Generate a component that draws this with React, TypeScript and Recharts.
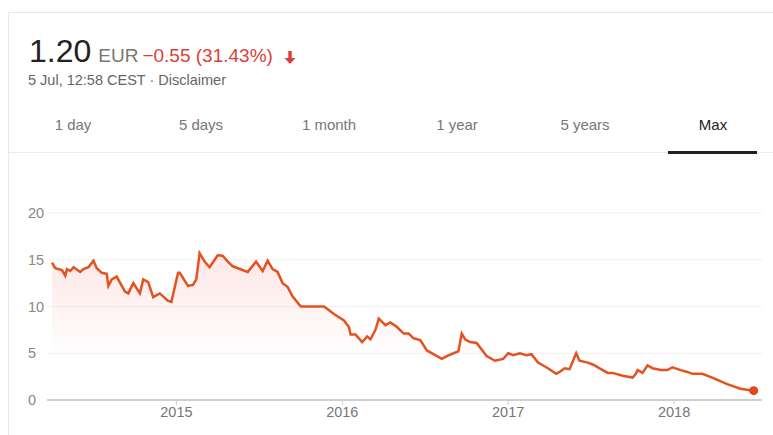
import { ComposedChart, Area, XAxis, YAxis, CartesianGrid } from 'recharts';

// decimal year of each sample
const dates = [
  2014.25, 2014.27, 2014.31, 2014.33, 2014.34, 2014.36, 2014.38, 2014.42, 2014.44, 2014.47,
  2014.5, 2014.52, 2014.55, 2014.58, 2014.59, 2014.61, 2014.64, 2014.69, 2014.71, 2014.74,
  2014.78, 2014.8, 2014.83, 2014.86, 2014.9, 2014.95, 2014.97, 2015.01, 2015.02, 2015.07,
  2015.1, 2015.12, 2015.14, 2015.17, 2015.2, 2015.25, 2015.28, 2015.31, 2015.34, 2015.43,
  2015.48, 2015.52, 2015.55, 2015.58, 2015.61, 2015.64, 2015.67, 2015.7, 2015.75, 2015.89,
  2015.95, 2016.01, 2016.04, 2016.05, 2016.08, 2016.12, 2016.15, 2016.17, 2016.2, 2016.22,
  2016.26, 2016.29, 2016.33, 2016.37, 2016.4, 2016.43, 2016.47, 2016.51, 2016.56, 2016.6,
  2016.63, 2016.67, 2016.7, 2016.72, 2016.74, 2016.77, 2016.81, 2016.87, 2016.92, 2016.97,
  2017.0, 2017.03, 2017.07, 2017.11, 2017.14, 2017.18, 2017.23, 2017.29, 2017.31, 2017.34,
  2017.37, 2017.41, 2017.43, 2017.48, 2017.51, 2017.57, 2017.6, 2017.63, 2017.69, 2017.75,
  2017.77, 2017.78, 2017.81, 2017.84, 2017.87, 2017.92, 2017.96, 2017.99, 2018.04, 2018.08,
  2018.11, 2018.17, 2018.23, 2018.32, 2018.4, 2018.48,
];

// price in EUR
const prices = [
  14.7, 14.1, 13.9, 13.3, 14.0, 13.8, 14.2, 13.7, 14.0, 14.2,
  14.9, 14.1, 13.6, 13.5, 12.2, 12.9, 13.2, 11.6, 11.4, 12.5,
  11.4, 12.9, 12.6, 11.0, 11.4, 10.6, 10.5, 13.6, 13.6, 12.2,
  12.3, 12.9, 15.7, 14.8, 14.2, 15.5, 15.4, 14.8, 14.3, 13.7,
  14.8, 13.8, 14.9, 14.0, 13.7, 12.5, 12.1, 11.1, 10.0, 10.0,
  9.2, 8.5, 7.8, 7.0, 7.0, 6.2, 6.8, 6.5, 7.5, 8.7,
  8.0, 8.3, 7.8, 7.1, 7.1, 6.6, 6.4, 5.3, 4.8, 4.4,
  4.7, 5.0, 5.2, 7.1, 6.5, 6.2, 6.1, 4.7, 4.2, 4.4,
  5.0, 4.8, 5.0, 4.8, 4.9, 4.0, 3.5, 2.8, 3.0, 3.4,
  3.3, 5.0, 4.2, 4.0, 3.8, 3.2, 2.9, 2.9, 2.6, 2.4,
  2.8, 3.2, 2.9, 3.7, 3.4, 3.2, 3.2, 3.5, 3.2, 3.0,
  2.8, 2.8, 2.4, 1.7, 1.2, 1.0,
];

const yearTicks = [2015, 2016, 2017, 2018];
const priceTicks = [0, 5, 10, 15, 20];
const ranges = ['1 day', '5 days', '1 month', '1 year', '5 years', 'Max'];

const data = dates.map((d, i) => ({ date: d, price: prices[i] }));

const LINE = '#e4521f';
const RED = '#d93f35';
const FONT = 'Arial, "Liberation Sans", sans-serif';

const LastDot = (props: any) => {
  if (props.index !== data.length - 1) return null;
  return <circle cx={props.cx} cy={props.cy} r={4.5} fill="#e0481f" stroke="none" />;
};

const PriceTick = ({ y, payload }: any) => (
  <text x={28} y={y} dy={5} fontSize={14.5} fill="#888" fontFamily={FONT} textAnchor="start">
    {payload.value}
  </text>
);

export default function App() {
  return (
    <div style={{ position: 'fixed', left: 0, top: 0, width: 773, height: 435, background: '#fff', overflow: 'hidden', fontFamily: FONT }}>
      <div style={{ position: 'absolute', left: 8, top: 12, width: 800, height: 500, border: '1px solid #e8e8e8' }} />

      <div style={{ position: 'absolute', left: 29, top: 33, whiteSpace: 'nowrap' }}>
        <span style={{ fontSize: 32, color: '#222' }}>1.20</span>
        <span style={{ fontSize: 19, color: '#777', marginLeft: 7 }}>EUR</span>
        <span style={{ fontSize: 19, color: RED, marginLeft: 4 }}>−0.55 (31.43%)</span>
      </div>
      <svg style={{ position: 'absolute', left: 284, top: 51 }} width={12} height={13} viewBox="0 0 12 13">
        <path d="M4.3 0 H7.7 V7 H11.5 L6 13 L0.5 7 H4.3 Z" fill={RED} />
      </svg>
      <div style={{ position: 'absolute', left: 28, top: 72, fontSize: 14.5, color: '#666', whiteSpace: 'nowrap' }}>
        5 Jul, 12:58 CEST · Disclaimer
      </div>

      {ranges.map((r, i) => (
        <div
          key={r}
          style={{
            position: 'absolute', left: 9 + i * 128, top: 116, width: 128, textAlign: 'center',
            fontSize: 15, color: r === 'Max' ? '#222' : '#777',
          }}
        >
          {r}
        </div>
      ))}
      <div style={{ position: 'absolute', left: 9, top: 152, width: 764, height: 1, background: '#eaeaea' }} />
      <div style={{ position: 'absolute', left: 668, top: 151, width: 89, height: 3, background: '#222' }} />

      <div style={{ position: 'absolute', left: 0, top: 190 }}>
        <ComposedChart width={773} height={245} data={data} margin={{ top: 23, right: 11, bottom: 5, left: 0 }}>
          <defs>
            <linearGradient id="pinkFill" x1="0" y1="0" x2="0" y2="1">
              <stop offset="0%" stopColor="#f48c84" stopOpacity={0.35} />
              <stop offset="70%" stopColor="#f48c84" stopOpacity={0} />
            </linearGradient>
          </defs>
          <CartesianGrid horizontal vertical={false} stroke="#f1f1f1" />
          <XAxis
            dataKey="date"
            type="number"
            domain={[2014.22, 2018.53]}
            ticks={yearTicks}
            height={30}
            axisLine={{ stroke: '#cfcfcf', strokeWidth: 2 }}
            tickLine={{ stroke: '#cfcfcf' }}
            tickSize={5}
            tick={{ fontSize: 14.5, fill: '#777', fontFamily: FONT }}
          />
          <YAxis
            domain={[0, 20]}
            ticks={priceTicks}
            width={47}
            axisLine={false}
            tickLine={false}
            tick={<PriceTick />}
          />
          <Area
            type="linear"
            dataKey="price"
            stroke={LINE}
            strokeWidth={2.5}
            fill="url(#pinkFill)"
            dot={<LastDot />}
            activeDot={false}
            isAnimationActive={false}
          />
        </ComposedChart>
      </div>
    </div>
  );
}
